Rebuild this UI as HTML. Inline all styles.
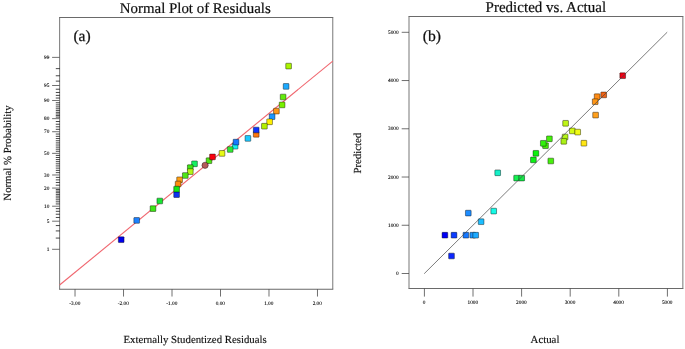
<!DOCTYPE html>
<html><head><meta charset="utf-8"><title>Residual plots</title>
<style>
html,body{margin:0;padding:0;background:#fff;}
body{width:685px;height:349px;overflow:hidden;font-family:"Liberation Serif",serif;}
svg{display:block;}
text{font-family:"Liberation Serif",serif;fill:#111;}
text{text-rendering:geometricPrecision;}
.t{font-size:14.9px;stroke:#111;stroke-width:0.2px;}
.p{font-size:15.6px;stroke:#111;stroke-width:0.25px;}
.l{font-size:10.8px;stroke:#111;stroke-width:0.15px;}
.k{font-size:5.3px;fill:#000;stroke:#000;stroke-width:0.1px;}
</style></head><body>
<svg width="685" height="349" viewBox="0 0 685 349">
<defs><filter id="sf" x="0" y="0" width="685" height="349" filterUnits="userSpaceOnUse"><feGaussianBlur stdDeviation="0.3"/></filter></defs>
<rect width="685" height="349" fill="#fff"/>
<g filter="url(#sf)">

<path d="M59.6 17.5V289.25M332.75 17.5V289.25" stroke="#848484" stroke-width="1.1" fill="none"/><path d="M59.1 17.5H333.25M59.1 289.25H333.25" stroke="#6a6a6a" stroke-width="1.1" fill="none"/>
<text class="t" x="119.8" y="13.1">Normal Plot of Residuals</text>
<text class="p" x="73.4" y="41.4">(a)</text>
<text class="l" transform="translate(11.0,153) rotate(-90)" text-anchor="middle">Normal % Probability</text>
<text class="l" x="195.1" y="342.8" text-anchor="middle">Externally Studentized Residuals</text>
<path d="M55.8 238.07H59.9M55.8 230.93H59.9M55.8 225.57H59.9M55.8 217.48H59.9M55.8 214.23H59.9M55.8 211.31H59.9M55.8 208.66H59.9M55.8 203.94H59.9M55.8 201.82H59.9M55.8 199.81H59.9M55.8 197.91H59.9M55.8 196.10H59.9M55.8 194.37H59.9M55.8 192.71H59.9M55.8 191.11H59.9M55.8 189.56H59.9M55.8 185.20H59.9M55.8 182.48H59.9M55.8 179.89H59.9M55.8 177.39H59.9M55.8 172.64H59.9M55.8 170.36H59.9M55.8 168.14H59.9M55.8 165.95H59.9M55.8 163.80H59.9M55.8 161.68H59.9M55.8 159.58H59.9M55.8 157.49H59.9M55.8 155.42H59.9M55.8 151.28H59.9M55.8 149.21H59.9M55.8 147.12H59.9M55.8 145.02H59.9M55.8 142.90H59.9M55.8 140.75H59.9M55.8 138.56H59.9M55.8 136.34H59.9M55.8 134.06H59.9M55.8 129.31H59.9M55.8 126.81H59.9M55.8 124.22H59.9M55.8 121.50H59.9M55.8 117.14H59.9M55.8 115.59H59.9M55.8 113.99H59.9M55.8 112.33H59.9M55.8 110.60H59.9M55.8 108.79H59.9M55.8 106.89H59.9M55.8 104.88H59.9M55.8 102.76H59.9M55.8 98.04H59.9M55.8 95.39H59.9M55.8 92.47H59.9M55.8 89.22H59.9M55.8 81.13H59.9M55.8 75.77H59.9M55.8 68.63H59.9" stroke="#262626" stroke-width="0.85" fill="none"/>
<text class="k" x="49.3" y="250.9" text-anchor="end">1</text>
<text class="k" x="49.3" y="222.8" text-anchor="end">5</text>
<text class="k" x="49.3" y="207.8" text-anchor="end">10</text>
<text class="k" x="49.3" y="189.7" text-anchor="end">20</text>
<text class="k" x="49.3" y="176.6" text-anchor="end">30</text>
<text class="k" x="49.3" y="154.9" text-anchor="end">50</text>
<text class="k" x="49.3" y="133.3" text-anchor="end">70</text>
<text class="k" x="49.3" y="120.2" text-anchor="end">80</text>
<text class="k" x="49.3" y="102.1" text-anchor="end">90</text>
<text class="k" x="49.3" y="87.1" text-anchor="end">95</text>
<text class="k" x="49.3" y="59.0" text-anchor="end">99</text>
<path d="M52.1 249.31H59.6M52.1 221.20H59.6M52.1 206.21H59.6M52.1 188.07H59.6M52.1 174.98H59.6M52.1 153.35H59.6M52.1 131.72H59.6M52.1 118.63H59.6M52.1 100.49H59.6M52.1 85.50H59.6M52.1 57.39H59.6" stroke="#404040" stroke-width="0.75" fill="none"/>
<text class="k" x="74.83" y="304.6" text-anchor="middle">-3.00</text>
<text class="k" x="123.32" y="304.6" text-anchor="middle">-2.00</text>
<text class="k" x="171.81" y="304.6" text-anchor="middle">-1.00</text>
<text class="k" x="220.30" y="304.6" text-anchor="middle">0.00</text>
<text class="k" x="268.79" y="304.6" text-anchor="middle">1.00</text>
<text class="k" x="317.28" y="304.6" text-anchor="middle">2.00</text>
<path d="M75.03 289.25V296.55M123.52 289.25V296.55M172.01 289.25V296.55M220.50 289.25V296.55M268.99 289.25V296.55M317.48 289.25V296.55" stroke="#404040" stroke-width="0.75" fill="none"/>
<line x1="59.6" y1="285.0" x2="332.75" y2="61.1" stroke="#f0666f" stroke-width="1.1"/>
<rect x="285.75" y="63.25" width="5.7" height="5.7" rx="0.5" fill="#aaf500" stroke="#000" stroke-opacity="0.52" stroke-width="0.8"/>
<rect x="283.25" y="83.55" width="5.7" height="5.7" rx="0.5" fill="#1eaaff" stroke="#000" stroke-opacity="0.52" stroke-width="0.8"/>
<rect x="280.25" y="94.15" width="5.7" height="5.7" rx="0.5" fill="#64eb0a" stroke="#000" stroke-opacity="0.52" stroke-width="0.8"/>
<rect x="279.25" y="102.05" width="5.7" height="5.7" rx="0.5" fill="#78f000" stroke="#000" stroke-opacity="0.52" stroke-width="0.8"/>
<rect x="273.55" y="108.25" width="5.7" height="5.7" rx="0.5" fill="#ff9614" stroke="#000" stroke-opacity="0.52" stroke-width="0.8"/>
<rect x="269.25" y="113.85" width="5.7" height="5.7" rx="0.5" fill="#1e96ff" stroke="#000" stroke-opacity="0.52" stroke-width="0.8"/>
<rect x="266.75" y="118.95" width="5.7" height="5.7" rx="0.5" fill="#fff000" stroke="#000" stroke-opacity="0.52" stroke-width="0.8"/>
<rect x="261.55" y="123.35" width="5.7" height="5.7" rx="0.5" fill="#b4f000" stroke="#000" stroke-opacity="0.52" stroke-width="0.8"/>
<rect x="253.35" y="131.45" width="5.7" height="5.7" rx="0.5" fill="#ff780a" stroke="#000" stroke-opacity="0.52" stroke-width="0.8"/>
<rect x="253.35" y="127.15" width="5.7" height="5.7" rx="0.5" fill="#0a32ff" stroke="#000" stroke-opacity="0.52" stroke-width="0.8"/>
<rect x="245.05" y="135.55" width="5.7" height="5.7" rx="0.5" fill="#1ec8ff" stroke="#000" stroke-opacity="0.52" stroke-width="0.8"/>
<rect x="232.25" y="143.35" width="5.7" height="5.7" rx="0.5" fill="#14f0f0" stroke="#000" stroke-opacity="0.52" stroke-width="0.8"/>
<rect x="233.15" y="139.25" width="5.7" height="5.7" rx="0.5" fill="#1478ff" stroke="#000" stroke-opacity="0.52" stroke-width="0.8"/>
<rect x="227.35" y="146.65" width="5.7" height="5.7" rx="0.5" fill="#32e632" stroke="#000" stroke-opacity="0.52" stroke-width="0.8"/>
<rect x="219.15" y="150.55" width="5.7" height="5.7" rx="0.5" fill="#e6fa14" stroke="#000" stroke-opacity="0.52" stroke-width="0.8"/>
<rect x="206.15" y="157.85" width="5.7" height="5.7" rx="0.5" fill="#50e614" stroke="#000" stroke-opacity="0.52" stroke-width="0.8"/>
<rect x="209.65" y="154.05" width="5.7" height="5.7" rx="0.5" fill="#fa0010" stroke="#000" stroke-opacity="0.52" stroke-width="0.8"/>
<circle cx="205.1" cy="165.3" r="3.15" fill="#b45a5a" stroke="#000" stroke-opacity="0.5" stroke-width="0.8"/>
<rect x="191.65" y="160.95" width="5.7" height="5.7" rx="0.5" fill="#14f064" stroke="#000" stroke-opacity="0.52" stroke-width="0.8"/>
<rect x="187.45" y="164.75" width="5.7" height="5.7" rx="0.5" fill="#3ce614" stroke="#000" stroke-opacity="0.52" stroke-width="0.8"/>
<rect x="187.45" y="168.75" width="5.7" height="5.7" rx="0.5" fill="#b4f514" stroke="#000" stroke-opacity="0.52" stroke-width="0.8"/>
<rect x="182.45" y="172.65" width="5.7" height="5.7" rx="0.5" fill="#50e614" stroke="#000" stroke-opacity="0.52" stroke-width="0.8"/>
<rect x="176.75" y="176.95" width="5.7" height="5.7" rx="0.5" fill="#ffa014" stroke="#000" stroke-opacity="0.52" stroke-width="0.8"/>
<rect x="175.25" y="181.15" width="5.7" height="5.7" rx="0.5" fill="#ff8c0a" stroke="#000" stroke-opacity="0.52" stroke-width="0.8"/>
<rect x="173.75" y="191.75" width="5.7" height="5.7" rx="0.5" fill="#0a32f0" stroke="#000" stroke-opacity="0.52" stroke-width="0.8"/>
<rect x="173.75" y="186.25" width="5.7" height="5.7" rx="0.5" fill="#14e614" stroke="#000" stroke-opacity="0.52" stroke-width="0.8"/>
<rect x="156.95" y="198.15" width="5.7" height="5.7" rx="0.5" fill="#14e632" stroke="#000" stroke-opacity="0.52" stroke-width="0.8"/>
<rect x="150.15" y="205.75" width="5.7" height="5.7" rx="0.5" fill="#3ce614" stroke="#000" stroke-opacity="0.52" stroke-width="0.8"/>
<rect x="133.85" y="217.55" width="5.7" height="5.7" rx="0.5" fill="#1e82ff" stroke="#000" stroke-opacity="0.52" stroke-width="0.8"/>
<rect x="118.35" y="236.85" width="5.7" height="5.7" rx="0.5" fill="#0000eb" stroke="#000" stroke-opacity="0.52" stroke-width="0.8"/>
<path d="M409.0 16.55V288.5M682.85 16.55V288.5" stroke="#848484" stroke-width="1.1" fill="none"/><path d="M408.5 16.55H683.35M408.5 288.5H683.35" stroke="#6a6a6a" stroke-width="1.1" fill="none"/>
<text class="t" style="font-size:15.02px" x="485.6" y="12.4">Predicted vs. Actual</text>
<text class="p" x="422.8" y="41.4">(b)</text>
<text class="l" transform="translate(360.5,153.2) rotate(-90)" text-anchor="middle">Predicted</text>
<text class="l" x="545" y="342.9" text-anchor="middle">Actual</text>
<text class="k" x="398.6" y="275.10" text-anchor="end">0</text>
<text class="k" x="424.20" y="304.0" text-anchor="middle">0</text>
<text class="k" x="398.6" y="226.86" text-anchor="end">1000</text>
<text class="k" x="472.80" y="304.0" text-anchor="middle">1000</text>
<text class="k" x="398.6" y="178.62" text-anchor="end">2000</text>
<text class="k" x="521.40" y="304.0" text-anchor="middle">2000</text>
<text class="k" x="398.6" y="130.38" text-anchor="end">3000</text>
<text class="k" x="570.00" y="304.0" text-anchor="middle">3000</text>
<text class="k" x="398.6" y="82.14" text-anchor="end">4000</text>
<text class="k" x="618.60" y="304.0" text-anchor="middle">4000</text>
<text class="k" x="398.6" y="33.90" text-anchor="end">5000</text>
<text class="k" x="667.20" y="304.0" text-anchor="middle">5000</text>
<path d="M401.70 273.50H409.0M424.40 288.5V296.60M401.70 225.26H409.0M473.00 288.5V296.60M401.70 177.02H409.0M521.60 288.5V296.60M401.70 128.78H409.0M570.20 288.5V296.60M401.70 80.54H409.0M618.80 288.5V296.60M401.70 32.30H409.0M667.40 288.5V296.60" stroke="#404040" stroke-width="0.75" fill="none"/>
<rect x="619.85" y="72.85" width="5.7" height="5.7" rx="0.5" fill="#f00014" stroke="#000" stroke-opacity="0.52" stroke-width="0.8"/>
<rect x="600.85" y="92.05" width="5.7" height="5.7" rx="0.5" fill="#f06414" stroke="#000" stroke-opacity="0.52" stroke-width="0.8"/>
<rect x="594.25" y="93.85" width="5.7" height="5.7" rx="0.5" fill="#ff8c14" stroke="#000" stroke-opacity="0.52" stroke-width="0.8"/>
<rect x="592.35" y="98.85" width="5.7" height="5.7" rx="0.5" fill="#ff9614" stroke="#000" stroke-opacity="0.52" stroke-width="0.8"/>
<rect x="592.75" y="112.25" width="5.7" height="5.7" rx="0.5" fill="#ffa01e" stroke="#000" stroke-opacity="0.52" stroke-width="0.8"/>
<rect x="562.75" y="120.45" width="5.7" height="5.7" rx="0.5" fill="#bef514" stroke="#000" stroke-opacity="0.52" stroke-width="0.8"/>
<rect x="569.45" y="128.05" width="5.7" height="5.7" rx="0.5" fill="#d2fa14" stroke="#000" stroke-opacity="0.52" stroke-width="0.8"/>
<rect x="574.85" y="129.25" width="5.7" height="5.7" rx="0.5" fill="#f0fa14" stroke="#000" stroke-opacity="0.52" stroke-width="0.8"/>
<rect x="562.25" y="134.15" width="5.7" height="5.7" rx="0.5" fill="#b4f514" stroke="#000" stroke-opacity="0.52" stroke-width="0.8"/>
<rect x="560.95" y="138.45" width="5.7" height="5.7" rx="0.5" fill="#aaf014" stroke="#000" stroke-opacity="0.52" stroke-width="0.8"/>
<rect x="581.05" y="140.35" width="5.7" height="5.7" rx="0.5" fill="#ffe614" stroke="#000" stroke-opacity="0.52" stroke-width="0.8"/>
<rect x="546.55" y="135.95" width="5.7" height="5.7" rx="0.5" fill="#46f00a" stroke="#000" stroke-opacity="0.52" stroke-width="0.8"/>
<rect x="542.65" y="142.85" width="5.7" height="5.7" rx="0.5" fill="#46eb0a" stroke="#000" stroke-opacity="0.52" stroke-width="0.8"/>
<rect x="540.45" y="140.45" width="5.7" height="5.7" rx="0.5" fill="#32f00a" stroke="#000" stroke-opacity="0.52" stroke-width="0.8"/>
<rect x="533.05" y="150.45" width="5.7" height="5.7" rx="0.5" fill="#0af00a" stroke="#000" stroke-opacity="0.52" stroke-width="0.8"/>
<rect x="530.55" y="157.05" width="5.7" height="5.7" rx="0.5" fill="#0af014" stroke="#000" stroke-opacity="0.52" stroke-width="0.8"/>
<rect x="547.95" y="158.15" width="5.7" height="5.7" rx="0.5" fill="#46f00a" stroke="#000" stroke-opacity="0.52" stroke-width="0.8"/>
<rect x="494.85" y="169.95" width="5.7" height="5.7" rx="0.5" fill="#14f0c8" stroke="#000" stroke-opacity="0.52" stroke-width="0.8"/>
<rect x="513.75" y="175.25" width="5.7" height="5.7" rx="0.5" fill="#14f050" stroke="#000" stroke-opacity="0.52" stroke-width="0.8"/>
<rect x="518.85" y="175.25" width="5.7" height="5.7" rx="0.5" fill="#14e646" stroke="#000" stroke-opacity="0.52" stroke-width="0.8"/>
<rect x="465.45" y="210.25" width="5.7" height="5.7" rx="0.5" fill="#1e8cff" stroke="#000" stroke-opacity="0.52" stroke-width="0.8"/>
<rect x="490.85" y="208.25" width="5.7" height="5.7" rx="0.5" fill="#14fae6" stroke="#000" stroke-opacity="0.52" stroke-width="0.8"/>
<rect x="478.25" y="218.85" width="5.7" height="5.7" rx="0.5" fill="#1ebeff" stroke="#000" stroke-opacity="0.52" stroke-width="0.8"/>
<rect x="442.05" y="232.35" width="5.7" height="5.7" rx="0.5" fill="#0000f5" stroke="#000" stroke-opacity="0.52" stroke-width="0.8"/>
<rect x="451.15" y="232.35" width="5.7" height="5.7" rx="0.5" fill="#0a3cff" stroke="#000" stroke-opacity="0.52" stroke-width="0.8"/>
<rect x="463.05" y="232.35" width="5.7" height="5.7" rx="0.5" fill="#1478ff" stroke="#000" stroke-opacity="0.52" stroke-width="0.8"/>
<rect x="469.95" y="232.35" width="5.7" height="5.7" rx="0.5" fill="#1e96ff" stroke="#000" stroke-opacity="0.52" stroke-width="0.8"/>
<rect x="472.85" y="232.35" width="5.7" height="5.7" rx="0.5" fill="#1eaaff" stroke="#000" stroke-opacity="0.52" stroke-width="0.8"/>
<rect x="448.65" y="253.15" width="5.7" height="5.7" rx="0.5" fill="#0a28ff" stroke="#000" stroke-opacity="0.52" stroke-width="0.8"/>
<line x1="424.2" y1="273.7" x2="667.2" y2="32.2" stroke="#484848" stroke-width="0.72"/>
</g></svg></body></html>
